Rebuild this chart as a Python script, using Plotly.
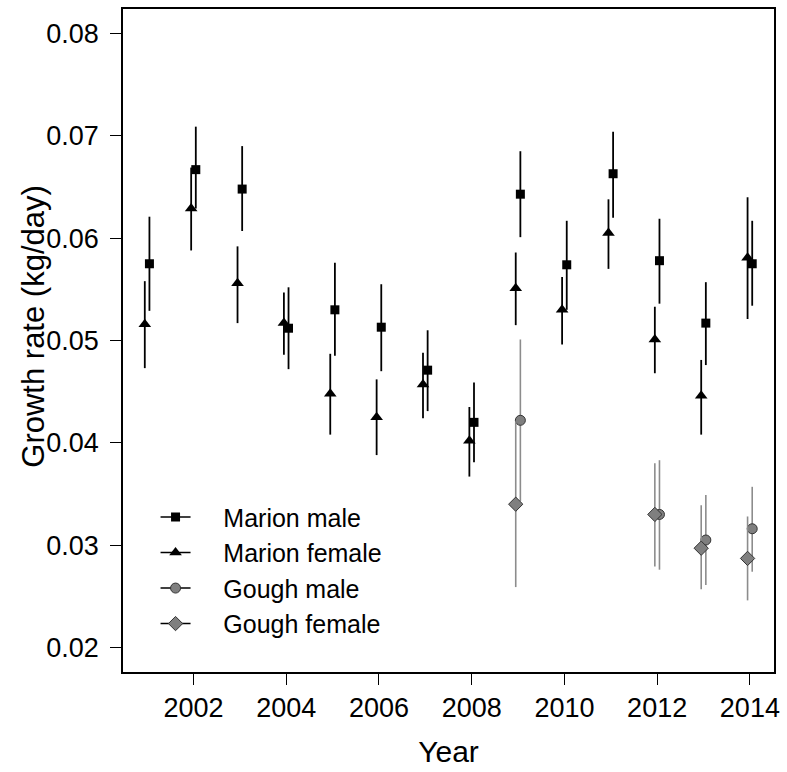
import plotly.graph_objects as go

# Survey years
years = [2001, 2002, 2003, 2004, 2005, 2006, 2007, 2008, 2009, 2010, 2011, 2012, 2013, 2014]

# Marion Island males: mean growth rate with 95% interval (kg/day)
marion_male = [0.0575, 0.0667, 0.0648, 0.0512, 0.0530, 0.0513, 0.0471,
               0.0420, 0.0643, 0.0574, 0.0663, 0.0578, 0.0517, 0.0575]
marion_male_lo = [0.0529, 0.0629, 0.0607, 0.0472, 0.0485, 0.0470, 0.0431,
                  0.0381, 0.0601, 0.0530, 0.0620, 0.0536, 0.0476, 0.0534]
marion_male_hi = [0.0621, 0.0709, 0.0690, 0.0552, 0.0576, 0.0555, 0.0510,
                  0.0459, 0.0685, 0.0617, 0.0704, 0.0619, 0.0557, 0.0617]

# Marion Island females
marion_female = [0.0516, 0.0629, 0.0556, 0.0517, 0.0448, 0.0425, 0.0457,
                 0.0402, 0.0551, 0.0530, 0.0605, 0.0501, 0.0446, 0.0581]
marion_female_lo = [0.0473, 0.0588, 0.0517, 0.0486, 0.0408, 0.0388, 0.0424,
                    0.0367, 0.0515, 0.0496, 0.0570, 0.0468, 0.0408, 0.0521]
marion_female_hi = [0.0558, 0.0669, 0.0592, 0.0547, 0.0487, 0.0462, 0.0488,
                    0.0435, 0.0586, 0.0562, 0.0638, 0.0533, 0.0481, 0.0640]

# Gough Island (sampled in fewer years)
gough_years = [2009, 2012, 2013, 2014]
gough_male = [0.0422, 0.0330, 0.0305, 0.0316]
gough_male_lo = [0.0343, 0.0276, 0.0261, 0.0274]
gough_male_hi = [0.0501, 0.0383, 0.0349, 0.0357]
gough_female = [0.0340, 0.0330, 0.0297, 0.0287]
gough_female_lo = [0.0259, 0.0279, 0.0257, 0.0246]
gough_female_hi = [0.0421, 0.0380, 0.0339, 0.0328]

y_ticks = [0.02, 0.03, 0.04, 0.05, 0.06, 0.07, 0.08]
x_ticks = [2002, 2004, 2006, 2008, 2010, 2012, 2014]

DODGE = 0.05  # males drawn slightly right of the year, females slightly left
FONT = "Liberation Sans, Arial, Helvetica, sans-serif"
LEGEND_PAD = "\u00a0" * 4  # gap between legend key and its label


def shifted(xs, d):
    return [x + d for x in xs]


def err(vals, lo, hi, color, width):
    return dict(
        type="data", symmetric=False,
        array=[h - v for v, h in zip(vals, hi)],
        arrayminus=[v - l for v, l in zip(vals, lo)],
        color=color, thickness=width, width=0,
    )


fig = go.Figure()

series = [
    ("Marion male", years, marion_male, marion_male_lo, marion_male_hi, +DODGE,
     dict(symbol="square", size=9, color="black", line=dict(width=0)), "black", 1.8),
    ("Marion female", years, marion_female, marion_female_lo, marion_female_hi, -DODGE,
     dict(symbol="triangle-up", size=11, color="black", line=dict(width=0)), "black", 1.8),
    ("Gough male", gough_years, gough_male, gough_male_lo, gough_male_hi, +DODGE,
     dict(symbol="circle", size=10, color="#7f7f7f", line=dict(width=1, color="#333333")), "#8c8c8c", 1.6),
    ("Gough female", gough_years, gough_female, gough_female_lo, gough_female_hi, -DODGE,
     dict(symbol="diamond", size=11, color="#7f7f7f", line=dict(width=1, color="#333333")), "#8c8c8c", 1.6),
]

for name, xs, vals, lo, hi, d, marker, ecol, ew in series:
    fig.add_trace(go.Scatter(
        x=shifted(xs, d), y=vals, name=name, legendgroup=name, showlegend=False,
        mode="markers", marker=marker,
        error_y=err(vals, lo, hi, ecol, ew),
    ))

# Legend keys: marker with a short black line through it (no data)
for name, xs, vals, lo, hi, d, marker, ecol, ew in series:
    fig.add_trace(go.Scatter(
        x=[None], y=[None], name=LEGEND_PAD + name, legendgroup=name, showlegend=True,
        mode="lines+markers", marker=marker, line=dict(color="black", width=1.5),
    ))

fig.update_layout(
    width=787, height=772,
    margin=dict(l=123, r=8, t=7, b=100),
    paper_bgcolor="white", plot_bgcolor="white",
    font=dict(family=FONT, color="black"),
    showlegend=True,
    legend=dict(
        x=0.05, y=0.268, xanchor="left", yanchor="top",
        bgcolor="rgba(0,0,0,0)", font=dict(size=25, family=FONT),
        itemwidth=30, tracegroupgap=0,
    ),
    xaxis=dict(
        range=[2000.48, 2014.52], tickmode="array", tickvals=x_ticks,
        ticktext=[str(t) for t in x_ticks],
        ticks="outside", ticklen=11, tickwidth=1.3, tickcolor="black",
        showline=True, linecolor="black", linewidth=1.5, mirror=True,
        showgrid=False, zeroline=False,
        tickfont=dict(size=27, family=FONT),
        title=dict(text="Year", font=dict(size=30, family=FONT), standoff=19),
    ),
    yaxis=dict(
        range=[0.0176, 0.0824], tickmode="array", tickvals=y_ticks,
        ticktext=["%.2f" % t for t in y_ticks],
        ticks="outside", ticklen=11, tickwidth=1.3, tickcolor="black",
        showline=True, linecolor="black", linewidth=1.5, mirror=True,
        showgrid=False, zeroline=False, ticklabelstandoff=6,
        tickfont=dict(size=27, family=FONT),
    ),
    annotations=[dict(
        text="Growth rate (kg/day)", textangle=-90,
        xref="paper", yref="paper", x=-0.137, y=0.522,
        xanchor="center", yanchor="middle", showarrow=False,
        font=dict(size=31, family=FONT),
    )],
)

fig.write_html("out.html")
